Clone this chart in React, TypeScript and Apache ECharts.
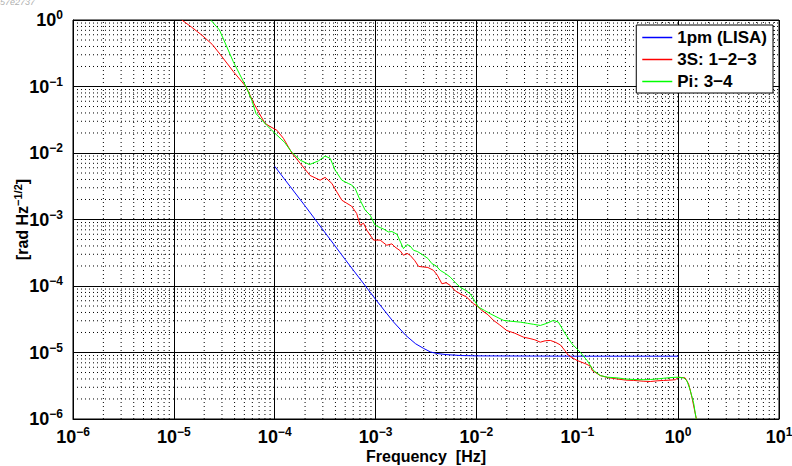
import React, { useEffect, useRef } from "react";
import * as echarts from "echarts";

// ---- data ----
const blueFreq = [1e-4, 2e-4, 5e-4, 1e-3, 1.5e-3, 2e-3, 2.5e-3, 3e-3, 3.5e-3, 4e-3, 5e-3, 7e-3, 1e-2, 0.1, 1];
const blueVal = [6.3e-3, 1.6e-3, 2.5e-4, 6.3e-5, 2.9e-5, 1.8e-5, 1.35e-5, 1.15e-5, 1.02e-5, 9.7e-6, 9.3e-6, 9.0e-6, 8.9e-6, 8.8e-6, 8.8e-6];

const redFreq = [
  1.2e-5, 1.5e-5, 1.9e-5, 2.4e-5, 2.9e-5, 3.9e-5, 5.2e-5, 6.2e-5, 7.0e-5, 8.0e-5, 9.0e-5, 1.05e-4, 1.22e-4, 1.48e-4,
  1.79e-4, 2.24e-4, 2.82e-4, 3.16e-4, 3.68e-4, 4.13e-4, 4.63e-4, 5.2e-4, 5.8e-4, 6.5e-4, 7.03e-4, 7.6e-4, 8.19e-4,
  9.55e-4, 1.11e-3, 1.29e-3, 1.45e-3, 1.56e-3, 1.75e-3, 1.89e-3, 2.05e-3, 2.2e-3, 2.45e-3, 2.67e-3, 2.98e-3, 3.3e-3,
  3.75e-3, 4.1e-3, 4.55e-3, 5.0e-3, 5.5e-3, 6.2e-3, 6.9e-3, 8.0e-3, 9.36e-3, 1.02e-2, 1.13e-2, 1.3e-2, 1.48e-2,
  1.7e-2, 2.0e-2, 2.4e-2, 2.93e-2, 3.4e-2, 3.8e-2, 4.3e-2, 4.8e-2, 5.4e-2, 6.1e-2, 6.8e-2, 7.5e-2, 8.2e-2, 9.94e-2,
  0.12, 0.136, 0.14, 0.169, 0.2, 0.247, 0.3, 0.362, 0.45, 0.53, 0.62, 0.718, 0.85, 0.94, 1.01, 1.17, 1.27, 1.37,
  1.48, 1.52,
];
const redVal = [
  1.0, 0.78, 0.59, 0.43, 0.30, 0.167, 0.099, 0.056, 0.040, 0.028, 0.025, 0.022, 0.0166, 0.0100,
  0.0070, 0.0046, 0.0039, 0.0043, 0.0035, 0.0026, 0.00195, 0.00175, 0.00158, 0.00123, 0.00082, 0.00088, 0.00069,
  0.00049, 0.00049, 0.00041, 0.00043, 0.000385, 0.00034, 0.00029, 0.00031, 0.00029, 0.00024, 0.000197, 0.000193, 0.00019,
  0.000172, 0.000145, 0.000108, 0.000112, 0.000102, 8.4e-5, 7.65e-5, 6.8e-5, 5.4e-5, 5.0e-5, 4.3e-5, 3.7e-5, 3.03e-5,
  2.6e-5, 2.14e-5, 1.95e-5, 1.7e-5, 1.62e-5, 1.55e-5, 1.43e-5, 1.5e-5, 1.52e-5, 1.42e-5, 1.3e-5, 1.08e-5, 9.0e-6, 7.6e-6,
  6.8e-6, 6.2e-6, 5.4e-6, 4.5e-6, 4.2e-6, 4.0e-6, 3.85e-6, 3.8e-6, 3.7e-6, 3.66e-6, 3.75e-6, 3.8e-6, 3.85e-6, 3.9e-6, 4.25e-6, 4.16e-6, 3.37e-6, 2.12e-6,
  1.19e-6, 1.0e-6,
];

const greenFreq = [
  2.32e-5, 2.83e-5, 3.89e-5, 5.2e-5, 5.93e-5, 6.53e-5, 8.34e-5, 1.05e-4, 1.25e-4, 1.48e-4, 1.79e-4, 2.21e-4, 2.71e-4,
  3.16e-4, 3.55e-4, 3.98e-4, 4.63e-4, 5.39e-4, 5.8e-4, 6.28e-4, 7.03e-4, 7.89e-4, 8.84e-4, 9.9e-4, 1.11e-3, 1.2e-3,
  1.34e-3, 1.45e-3, 1.63e-3, 1.89e-3, 2.05e-3, 2.2e-3, 2.38e-3, 2.6e-3, 2.98e-3, 3.3e-3, 3.62e-3, 4.0e-3, 4.37e-3,
  4.9e-3, 5.5e-3, 6.2e-3, 6.9e-3, 7.8e-3, 8.67e-3, 1.05e-2, 1.2e-2, 1.37e-2, 1.6e-2, 1.86e-2, 2.2e-2, 2.72e-2, 3.2e-2,
  3.7e-2, 4.3e-2, 5.0e-2, 5.8e-2, 6.5e-2, 7.6e-2, 8.86e-2, 0.107, 0.125, 0.145, 0.169, 0.2, 0.247, 0.3, 0.362, 0.45,
  0.53, 0.62, 0.718, 0.85, 0.975, 1.135, 1.22, 1.32, 1.43, 1.5, 1.51,
];
const greenVal = [
  1.0, 0.71, 0.235, 0.099, 0.062, 0.039, 0.026, 0.0186, 0.0145, 0.0102, 0.0078, 0.0067, 0.0076,
  0.0090, 0.0083, 0.0055, 0.0039, 0.00347, 0.0033, 0.00292, 0.00195, 0.00138, 0.00116, 0.00082, 0.000755, 0.00072,
  0.00065, 0.00066, 0.0006, 0.000365, 0.00042, 0.0004, 0.000344, 0.00033, 0.000289, 0.00026, 0.000217, 0.0002, 0.000172,
  0.000155, 0.000136, 0.000112, 9.6e-5, 8.6e-5, 7.65e-5, 4.8e-5, 4.3e-5, 3.83e-5, 3.4e-5, 3.04e-5, 2.95e-5, 2.86e-5, 2.75e-5,
  2.65e-5, 2.55e-5, 2.75e-5, 3.04e-5, 2.86e-5, 1.91e-5, 1.35e-5, 1.01e-5, 7.6e-6, 5.36e-6, 4.5e-6, 4.25e-6, 4.16e-6, 4.0e-6, 3.92e-6, 3.9e-6,
  3.92e-6, 4.0e-6, 4.1e-6, 4.2e-6, 4.25e-6, 4.16e-6, 3.79e-6, 2.68e-6, 1.69e-6, 1.06e-6, 1.0e-6,
];

const seriesNames = ["1pm (LISA)", "3S: 1\u22122\u22123", "Pi: 3\u22124"];
const seriesColors = ["#0000ff", "#ff0000", "#00ff00"];
const xDecades = [-6, -5, -4, -3, -2, -1, 0];
const yDecades = [-6, -5, -4, -3, -2, -1];
const minorSteps = [2, 3, 4, 5, 6, 7, 8, 9];
const X_MIN = 1e-6, X_MAX = 10, Y_MIN = 1e-6, Y_MAX = 1;

const FONT = "'Liberation Sans', Arial, Helvetica, sans-serif";

const zip = (xs: number[], ys: number[]) => xs.map((x, i) => [x, ys[i]]);

const tickLabel = (v: number) => {
  const e = Math.round(Math.log10(v));
  const s = e < 0 ? "\u2212" + Math.abs(e) : String(e);
  return `{b|10}{s|${s}}`;
};

const labelRich = {
  b: { fontFamily: FONT, fontWeight: "bold", fontSize: 18, color: "#000", lineHeight: 22 },
  s: { fontFamily: FONT, fontWeight: "bold", fontSize: 12, color: "#000", verticalAlign: "top", lineHeight: 12 },
};

export default function App() {
  const ref = useRef<HTMLDivElement>(null);
  useEffect(() => {
    if (!ref.current) return;
    const chart = echarts.init(ref.current, null, { renderer: "svg" });
    // minor grid lines as broken polylines (gaps via '-')
    const minorXData: any[] = [];
    xDecades.forEach((d) =>
      minorSteps.forEach((m) => {
        const v = m * Math.pow(10, d);
        minorXData.push([v, Y_MIN], [v, Y_MAX], [v, "-"]);
      })
    );
    const minorYData: any[] = [];
    yDecades.forEach((d) =>
      minorSteps.forEach((m) => {
        const v = m * Math.pow(10, d);
        minorYData.push([X_MIN, v], [X_MAX, v], ["-", v]);
      })
    );
    const gridSeries = (name: string, data: any[]) => ({
      name,
      type: "line",
      data,
      silent: true,
      showSymbol: false,
      symbol: "none",
      connectNulls: false,
      z: 1,
      lineStyle: { color: "#000", width: 1, type: [1, 3] },
      emphasis: { disabled: true },
    });
    const lineData = [zip(blueFreq, blueVal), zip(redFreq, redVal), zip(greenFreq, greenVal)];
    const option: any = {
      animation: false,
      backgroundColor: "#fff",
      graphic: [
        {
          type: "text",
          left: 0,
          top: -3,
          style: { text: "57e2737", font: `italic 9px ${FONT}`, fill: "#b0b0b0" },
        },
      ],
      grid: {
        left: 73,
        right: 13,
        top: 20,
        bottom: 47,
        show: true,
        borderColor: "#000",
        borderWidth: 1,
        backgroundColor: "transparent",
        containLabel: false,
        outerBoundsMode: "none",
      },
      legend: {
        data: seriesNames,
        orient: "vertical",
        right: 19,
        top: 25,
        backgroundColor: "#fff",
        borderColor: "#000",
        borderWidth: 1,
        padding: [4, 6, 3, 6],
        icon: "rect",
        itemWidth: 30,
        itemHeight: 1.5,
        itemGap: 5,
        textStyle: { fontFamily: FONT, fontWeight: "bold", fontSize: 17, color: "#000", lineHeight: 17 },
      },
      xAxis: {
        type: "log",
        logBase: 10,
        min: X_MIN,
        max: X_MAX,
        splitNumber: 7,
        axisLine: { show: true, lineStyle: { color: "#000", width: 1 } },
        axisTick: { show: true, inside: true, length: 5, lineStyle: { color: "#000" } },
        axisLabel: { formatter: tickLabel, rich: labelRich, margin: 7, showMinLabel: true, showMaxLabel: true },
        splitLine: { show: true, lineStyle: { color: "#000", width: 1 } },
        name: "Frequency  [Hz]",
        nameLocation: "middle",
        nameGap: 29,
        nameMoveOverlap: false,
        nameTextStyle: { fontFamily: FONT, fontWeight: "bold", fontSize: 16, color: "#000" },
      },
      yAxis: {
        type: "log",
        logBase: 10,
        min: Y_MIN,
        max: Y_MAX,
        splitNumber: 6,
        axisLine: { show: true, lineStyle: { color: "#000", width: 1 } },
        axisTick: { show: true, inside: true, length: 5, lineStyle: { color: "#000" } },
        axisLabel: { formatter: tickLabel, rich: labelRich, margin: 10, showMinLabel: true, showMaxLabel: true },
        splitLine: { show: true, lineStyle: { color: "#000", width: 1 } },
        name: "{a|[rad Hz}{s|\u22121/2}{a|]}",
        nameLocation: "middle",
        nameGap: 41,
        nameRotate: 90,
        nameMoveOverlap: false,
        nameTextStyle: {
          rich: {
            a: { fontFamily: FONT, fontWeight: "bold", fontSize: 16, color: "#000", lineHeight: 20 },
            s: { fontFamily: FONT, fontWeight: "bold", fontSize: 11, color: "#000", verticalAlign: "top", lineHeight: 11 },
          },
        },
      },
      series: [
        gridSeries("minorX", minorXData),
        gridSeries("minorY", minorYData),
        ...seriesNames.map((n, i) => ({
          name: n,
          type: "line",
          data: lineData[i],
          showSymbol: false,
          symbol: "none",
          z: 3,
          lineStyle: { color: seriesColors[i], width: 1 },
          itemStyle: { color: seriesColors[i] },
          clip: true,
        })),
      ],
    };
    chart.setOption(option);
    return () => chart.dispose();
  }, []);
  return <div ref={ref} style={{ position: "fixed", left: 0, top: 0, width: 792, height: 466 }} />;
}
